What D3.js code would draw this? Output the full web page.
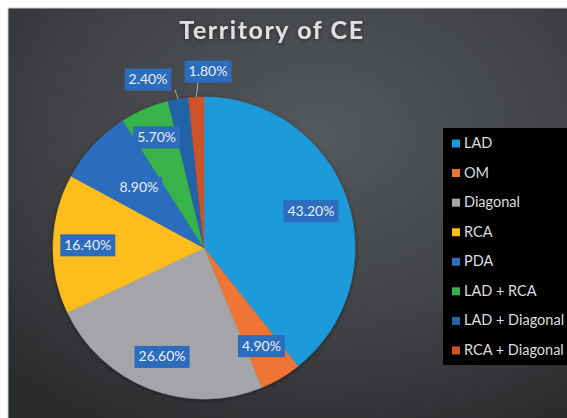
<!DOCTYPE html>
<html><head><meta charset="utf-8">
<script src="https://cdn.jsdelivr.net/npm/d3@7"></script>
<style>
html,body{margin:0;padding:0;background:#fff;}
svg{display:block;}
</style></head>
<body>
<svg id="chart" width="567" height="418"></svg>
<script>
// ---- data ----
const categories = ["LAD","OM","Diagonal","RCA","PDA","LAD + RCA","LAD + Diagonal","RCA + Diagonal"];
const values = [43.2, 4.9, 26.6, 16.4, 8.9, 5.7, 2.4, 1.8];
const labels = ["43.20%","4.90%","26.60%","16.40%","8.90%","5.70%","2.40%","1.80%"];
const colors = ["#1c9ad9","#ee7434","#a3a5a8","#fdbd1b","#2c6dbd","#37b34a","#2264a8","#cf522a"];
const title = "Territory of CE";
// layout (not data): label radius factors; last two placed outside
const labelRadiusFactor = [0.75, 0.75, 0.77, 0.77, 0.59, 0.8];
const outsideLabelPos = [[148, 79], [208, 71]];

const svg = d3.select("#chart");
const W = 567, H = 418;

const defs = svg.append("defs");
const bg = defs.append("radialGradient").attr("id","bg")
  .attr("cx","0.55").attr("cy","0.3").attr("r","0.8");
bg.append("stop").attr("offset","0").attr("stop-color","#56595c");
bg.append("stop").attr("offset","0.6").attr("stop-color","#3e4043");
bg.append("stop").attr("offset","1").attr("stop-color","#2a2b2d");

const sh = defs.append("filter").attr("id","sh").attr("x","-20%").attr("y","-20%").attr("width","140%").attr("height","140%");
sh.append("feDropShadow").attr("dx",0).attr("dy",1).attr("stdDeviation",2).attr("flood-color","#000").attr("flood-opacity",0.5);

svg.append("rect").attr("x",8).attr("y",8).attr("width",W).attr("height",H)
  .attr("fill","url(#bg)").attr("stroke","#c9c9c9").attr("stroke-width",1);

// title
svg.append("text").attr("x",272).attr("y",39).attr("text-anchor","middle")
  .attr("font-family","Lato, 'Open Sans', sans-serif").attr("font-weight","bold")
  .attr("font-size",25).attr("letter-spacing","1.6").attr("fill","#e0e0e0")
  .attr("filter","url(#sh)")
  .text(title);

// pie
const cx = 204, cy = 248, r = 151;
const pie = d3.pie().sort(null).value(d => d.v);
const data = categories.map((c,i)=>({c, v: values[i], label: labels[i], color: colors[i]}));
const arcs = pie(data);
const arc = d3.arc().innerRadius(0).outerRadius(r);

const g = svg.append("g").attr("transform",`translate(${cx},${cy})`);
g.append("g").attr("filter","url(#sh)").selectAll("path").data(arcs).join("path")
  .attr("d", arc).attr("fill", d => d.data.color)
  .attr("stroke", d => d.data.color).attr("stroke-width",0.5);

// labels
const fontFam = "Lato, 'Open Sans', sans-serif";
function drawLabel(x, y, txt){
  const t = svg.append("text").attr("x",x).attr("y",y+5).attr("text-anchor","middle")
    .attr("font-family",fontFam).attr("font-size",14).attr("fill","#e9eef5").text(txt);
  const bb = t.node().getBBox();
  svg.insert("rect", () => t.node())
    .attr("x", bb.x-4).attr("y", y-10.5).attr("width", bb.width+8).attr("height", 22)
    .attr("fill","#2c6cbc");
}
arcs.forEach((a,i)=>{
  if(i < labelRadiusFactor.length){
    const lr = r*labelRadiusFactor[i];
    const mid = (a.startAngle+a.endAngle)/2;
    drawLabel(cx + lr*Math.sin(mid), cy - lr*Math.cos(mid), a.data.label);
  } else {
    const p = outsideLabelPos[i - labelRadiusFactor.length];
    const mid = (a.startAngle+a.endAngle)/2;
    const ex = cx + r*Math.sin(mid), ey = cy - r*Math.cos(mid);
    svg.append("line").attr("x1", ex).attr("y1", ey)
      .attr("x2", p[0] + (i===6 ? 27 : -10)).attr("y2", p[1]+11)
      .attr("stroke","#a6a6a6").attr("stroke-width",1);
    drawLabel(p[0], p[1], a.data.label);
  }
});

// legend
const lg = svg.append("g");
lg.append("rect").attr("x",443).attr("y",128).attr("width",130).attr("height",237).attr("fill","#000");
const ly = d3.scalePoint().domain(categories).range([143, 350]);
categories.forEach((c,i)=>{
  lg.append("rect").attr("x",452).attr("y",ly(c)-3.5).attr("width",8).attr("height",8).attr("fill",colors[i]);
  lg.append("text").attr("x",464).attr("y",ly(c)+5).attr("font-family",fontFam)
    .attr("font-size",14.5).attr("fill","#dcdcdc").text(c);
});
</script>
</body></html>
